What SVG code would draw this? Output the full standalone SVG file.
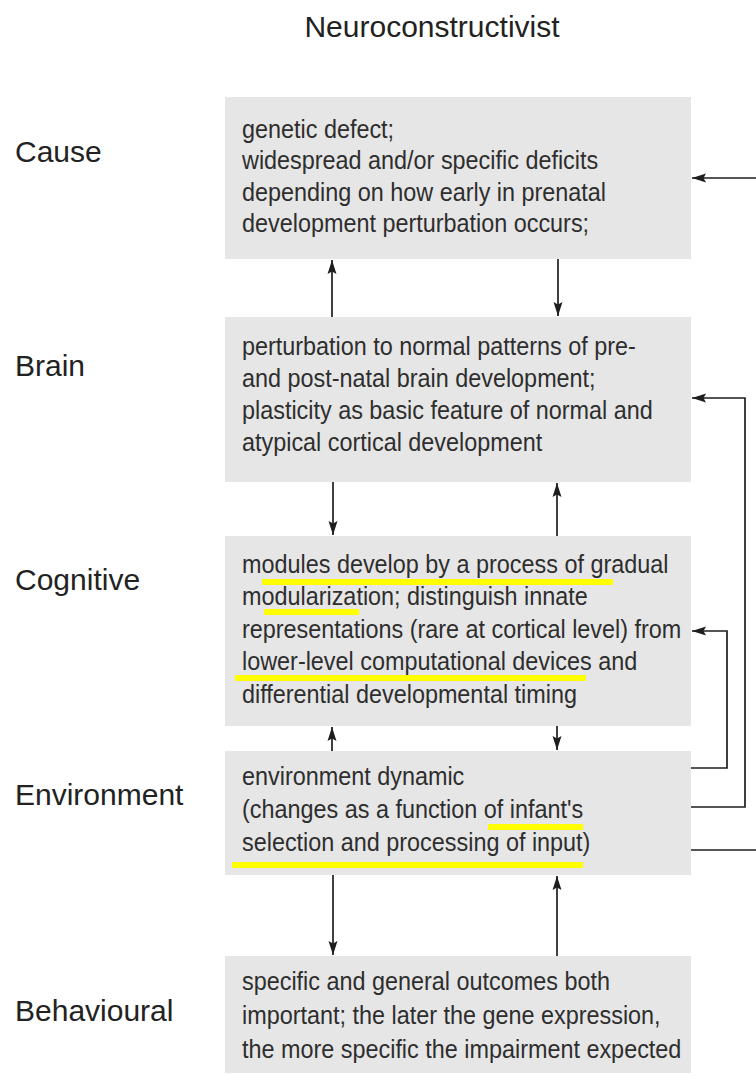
<svg xmlns="http://www.w3.org/2000/svg" width="756" height="1076" viewBox="0 0 756 1076">
<defs>
<style>
.box{fill:#e6e6e6}
.lbl{font-family:"Liberation Sans",Arial,sans-serif;font-size:30px;fill:#222}
.t{font-family:"Liberation Sans",Arial,sans-serif;font-size:26px;fill:#2e2e2e}
.hl{fill:#ffff00}
.con{fill:none;stroke:#1e1e1e;stroke-width:1.7}
</style>
<marker id="ah" markerUnits="userSpaceOnUse" markerWidth="15" markerHeight="12" refX="14" refY="6" orient="auto">
<path d="M0,1.5 L14,6 L0,10.5 L2.5,6 z" fill="#1e1e1e"/>
</marker>
</defs>
<rect width="756" height="1076" fill="#fff"/>
<text class="lbl" x="432" y="37" text-anchor="middle">Neuroconstructivist</text>
<g id="labels">
<text class="lbl" x="15" y="162">Cause</text>
<text class="lbl" x="15" y="376">Brain</text>
<text class="lbl" x="15" y="590">Cognitive</text>
<text class="lbl" x="15" y="805">Environment</text>
<text class="lbl" x="15" y="1021">Behavioural</text>
</g>
<g id="cause">
<rect class="box" x="225" y="97" width="466" height="162"/>
<g transform="translate(242 0) scale(0.9 1)">
<text class="t" x="0" y="138">genetic defect;</text>
<text class="t" x="0" y="169.5">widespread and/or specific deficits</text>
<text class="t" x="0" y="201">depending on how early in prenatal</text>
<text class="t" x="0" y="232.5">development perturbation occurs;</text>
</g>
</g>
<g id="brain">
<rect class="box" x="225" y="317" width="466" height="165"/>
<g transform="translate(242 0) scale(0.9 1)">
<text class="t" x="0" y="355">perturbation to normal patterns of pre-</text>
<text class="t" x="0" y="387">and post-natal brain development;</text>
<text class="t" x="0" y="419">plasticity as basic feature of normal and</text>
<text class="t" x="0" y="451">atypical cortical development</text>
</g>
</g>
<g id="cognitive">
<rect class="box" x="225" y="536" width="466" height="190"/>
<rect class="hl" x="262" y="579" width="351" height="6"/>
<rect class="hl" x="264" y="609" width="95" height="6"/>
<rect class="hl" x="235" y="675" width="351" height="6"/>
<g transform="translate(242 0) scale(0.9 1)">
<text class="t" x="0" y="573">modules develop by a process of gradual</text>
<text class="t" x="0" y="605.5">modularization; distinguish innate</text>
<text class="t" x="0" y="638">representations (rare at cortical level) from</text>
<text class="t" x="0" y="670.5">lower-level computational devices and</text>
<text class="t" x="0" y="703">differential developmental timing</text>
</g>
</g>
<g id="environment">
<rect class="box" x="225" y="751" width="466" height="124"/>
<rect class="hl" x="488" y="824" width="95" height="6"/>
<rect class="hl" x="232" y="862" width="351" height="6"/>
<g transform="translate(242 0) scale(0.9 1)">
<text class="t" x="0" y="785">environment dynamic</text>
<text class="t" x="0" y="818">(changes as a function of infant's</text>
<text class="t" x="0" y="851">selection and processing of input)</text>
</g>
</g>
<g id="behavioural">
<rect class="box" x="225" y="956" width="466" height="117"/>
<g transform="translate(242 0) scale(0.9 1)">
<text class="t" x="0" y="990">specific and general outcomes both</text>
<text class="t" x="0" y="1024">important; the later the gene expression,</text>
<text class="t" x="0" y="1058">the more specific the impairment expected</text>
</g>
</g>
<g id="connectors">
<path class="con" d="M332,317 V260" marker-end="url(#ah)"/>
<path class="con" d="M558,259 V316" marker-end="url(#ah)"/>
<path class="con" d="M333,482 V535" marker-end="url(#ah)"/>
<path class="con" d="M557,536 V483" marker-end="url(#ah)"/>
<path class="con" d="M332,751 V727" marker-end="url(#ah)"/>
<path class="con" d="M557,726 V750" marker-end="url(#ah)"/>
<path class="con" d="M333,875 V955" marker-end="url(#ah)"/>
<path class="con" d="M557,956 V876" marker-end="url(#ah)"/>
<path class="con" d="M756,178 H692" marker-end="url(#ah)"/>
<path class="con" d="M691,807 H745 V398 H692" marker-end="url(#ah)"/>
<path class="con" d="M691,768 H727 V631 H692" marker-end="url(#ah)"/>
<path class="con" d="M691,850 H756"/>
</g>
</svg>
